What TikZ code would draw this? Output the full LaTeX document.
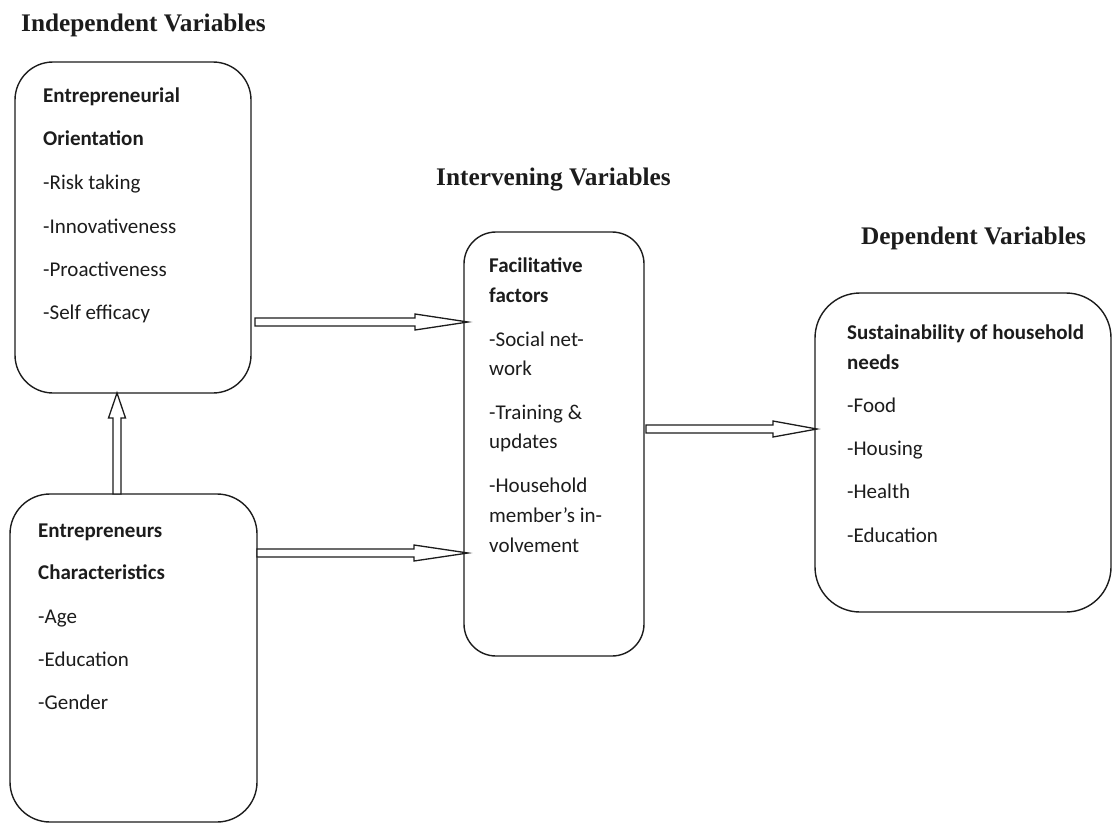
\documentclass[tikz,border=0pt]{standalone}
\usepackage{fontspec}
\setmainfont{Carlito}
\newfontfamily\titlefont{Liberation Serif}
\usetikzlibrary{calc}
\definecolor{ink}{HTML}{1C1C1C}
\tikzset{
  box/.style={draw=ink, line width=1.4pt, rounded corners=#1, inner sep=0pt, outer sep=0pt},
  ln/.style={anchor=base west, inner sep=0pt, text=ink, font=\fontsize{21}{25}\selectfont},
  hd/.style={anchor=base west, inner sep=0pt, text=ink, font=\fontsize{21}{25}\selectfont\bfseries},
  ttl/.style={anchor=base west, inner sep=0pt, text=ink, font=\titlefont\fontsize{25.3}{30}\selectfont\bfseries},
  barrow/.style n args={4}{draw=ink, fill=white, line width=1.3pt, line join=miter,
    to path={let \p1=(\tikztostart), \p2=(\tikztotarget),
      \p4=($(\p1)!#2!(\p2)$), \p5=($(\p2)!-#3!(\p1)$), \p3=($(\p5)!#1!(\p4)$) in
      ($(\p4)!4pt!90:(\p5)$) -- ($(\p3)!4pt!-90:(\p4)$) -- ($(\p3)!#4!-90:(\p4)$) -- (\p5)
      -- ($(\p3)!#4!90:(\p4)$) -- ($(\p3)!4pt!90:(\p4)$) -- ($(\p4)!4pt!-90:(\p5)$) -- cycle}}
}
\begin{document}
\begin{tikzpicture}[x=1pt,y=-1pt]
\useasboundingbox (0,0) rectangle (1113,824);

% titles
\node[ttl] (t1) at (21,32) {Independent Variables};
\node[ttl] (t2) at (436,185) {Intervening Variables};
\node[ttl] (t3) at (861,244) {Dependent Variables};

% boxes
\node[box=38pt, minimum width=236pt, minimum height=331pt] (eo) at (133,227.5) {};
\node[box=40pt, minimum width=247pt, minimum height=328pt] (ec) at (133.5,658) {};
\node[box=32pt, minimum width=180pt, minimum height=424pt] (ff) at (554,444) {};
\node[box=45pt, minimum width=296pt, minimum height=319pt] (sh) at (963,452.5) {};

% box 1 text
\node[hd] (eo1) at (43,103) {Entrepreneurial};
\node[hd] (eo2) at (43,146) {Orientation};
\node[ln] (eo3) at (43,189.5) {-Risk taking};
\node[ln] (eo4) at (43,233) {-Innovativeness};
\node[ln] (eo5) at (43,276) {-Proactiveness};
\node[ln] (eo6) at (43,319) {-Self efficacy};

% box 2 text
\node[hd] (ec1) at (38,537) {Entrepreneurs};
\node[hd] (ec2) at (38,579.5) {Characteristics};
\node[ln] (ec3) at (38,623) {-Age};
\node[ln] (ec4) at (38,666) {-Education};
\node[ln] (ec5) at (38,709.5) {-Gender};

% box 3 text
\node[hd] (ff1) at (489,272) {Facilitative};
\node[hd] (ff2) at (489,302) {factors};
\node[ln] (ff3) at (489,346) {-Social net-};
\node[ln] (ff4) at (489,375.5) {work};
\node[ln] (ff5) at (489,419) {-Training \&};
\node[ln] (ff6) at (489,448.5) {updates};
\node[ln] (ff7) at (489,492.5) {-Household};
\node[ln] (ff8) at (489,522) {member’s in-};
\node[ln] (ff9) at (489,552) {volvement};

% box 4 text
\node[hd] (sh1) at (847,339) {Sustainability of household};
\node[hd] (sh2) at (847,369) {needs};
\node[ln] (sh3) at (847,412) {-Food};
\node[ln] (sh4) at (847,455) {-Housing};
\node[ln] (sh5) at (847,498.5) {-Health};
\node[ln] (sh6) at (847,542) {-Education};

% helper coordinates for connector lines
\coordinate (ya) at (0,322);
\coordinate (yb) at (0,553);
\coordinate (yc) at (0,429);
\coordinate (xa) at (117,0);

% connectors
\draw[barrow={53pt}{4pt}{4pt}{8pt}] (eo.east |- ya) to (ff.west |- ya);
\draw[barrow={54pt}{0pt}{4pt}{8pt}] (ec.east |- yb) to (ff.west |- yb);
\draw[barrow={44pt}{2pt}{2pt}{8pt}] (ff.east |- yc) to (sh.west |- yc);
\draw[barrow={25pt}{0pt}{0pt}{8.5pt}] (ec.north -| xa) to (eo.south -| xa);
\end{tikzpicture}
\end{document}
